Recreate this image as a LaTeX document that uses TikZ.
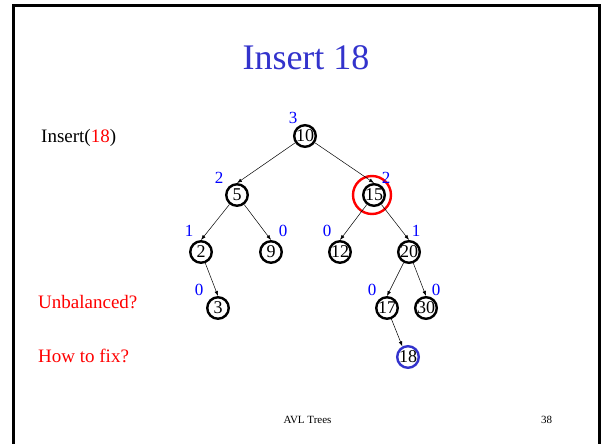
\documentclass[tikz,border=0pt]{standalone}
\usepackage{fontspec}
\setmainfont{Liberation Serif}
\usetikzlibrary{arrows.meta}
\definecolor{ttlblue}{RGB}{51,51,204}
\definecolor{balblue}{RGB}{0,0,255}
\definecolor{hotred}{RGB}{255,0,0}
\tikzset{
  key/.style={circle, draw=black, line width=2.4pt, minimum size=21.5pt, inner sep=0pt, font=\fontsize{18}{18}\selectfont},
  newkey/.style={key, draw=ttlblue},
  ring/.style={circle, draw=hotred, line width=2.4pt, minimum size=38pt, inner sep=0pt},
  bal/.style={balblue, inner sep=0pt, font=\fontsize{17}{17}\selectfont},
  txt/.style={anchor=base west, inner sep=0pt, font=\fontsize{19}{22}\selectfont},
  edge/.style={-{Latex[length=5pt,width=3.6pt]}, line width=0.5pt},
}

\begin{document}
\begin{tikzpicture}[x=1pt,y=-1pt]
  \useasboundingbox (0,0) rectangle (602,444);
  \draw[line width=3pt] (13.5,6) rectangle (599.5,470);

  \node[ttlblue, anchor=base, font=\fontsize{36}{40}\selectfont] (title) at (306,70) {Insert 18};
  \node[txt] (ins) at (41,142) {Insert(\textcolor{hotred}{18})};
  \node[txt, hotred] (unbal) at (38,308) {Unbalanced?};
  \node[txt, hotred] (fix) at (38,362) {How to fix?};

  % the tree
  \node[key] (n10) at (305,136) {10};
  \node[key] (n5)  at (237,195) {5};
  \node[key] (n15) at (374,195) {15};
  \node[key] (n2)  at (201,252) {2};
  \node[key] (n9)  at (271,252) {9};
  \node[key] (n12) at (340,252) {12};
  \node[key] (n20) at (409,252) {20};
  \node[key] (n3)  at (218,308) {3};
  \node[key] (n17) at (387,308) {17};
  \node[key] (n30) at (426,308) {30};
  \node[newkey] (n18) at (408,357) {18};
  \node[ring] (bad) at (372,195) {};

  \foreach \p/\c in {10/5,10/15,5/2,5/9,15/12,15/20,2/3,20/17,20/30}
    \draw[edge] (n\p) -- (n\c.north);
  \draw[edge] (n17) -- (n18.118);

  % heights
  \foreach \k/\x/\y/\b in {10/293/118/3, 5/219/178/2, 15/386/178/2, 2/189/231/1, 9/283/231/0,
                           12/327/231/0, 20/416/231/1, 3/199/290/0, 17/372/290/0, 30/436/290/0}
    \node[bal] (h\k) at (\x,\y) {\b};

  \node[anchor=base, inner sep=0pt, font=\fontsize{11}{12}\selectfont] (foot) at (307.5,423) {AVL Trees};
  \node[anchor=base west, inner sep=0pt, font=\fontsize{11}{12}\selectfont] (page) at (541,423) {38};
\end{tikzpicture}
\end{document}
